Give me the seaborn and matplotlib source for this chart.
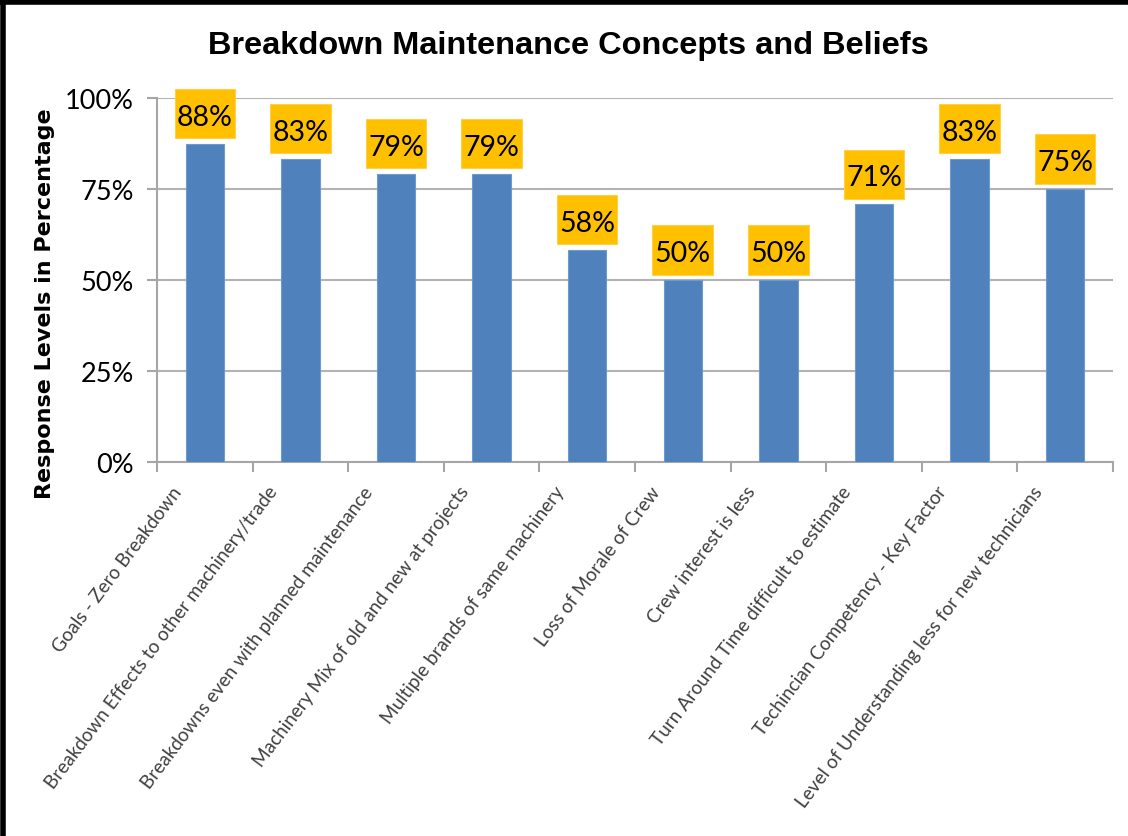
import matplotlib
matplotlib.use("Agg")
import matplotlib.pyplot as plt
import seaborn as sns
import pandas as pd
from matplotlib.lines import Line2D
from matplotlib.path import Path
from matplotlib.ticker import FixedLocator, PercentFormatter
from matplotlib.transforms import ScaledTranslation

categories = [
    "Goals - Zero Breakdown",
    "Breakdown Effects to other machinery/trade",
    "Breakdowns even with planned maintenance",
    "Machinery Mix of old and new at projects",
    "Multiple brands of same machinery",
    "Loss of Morale of Crew",
    "Crew interest is less",
    "Turn Around Time difficult to estimate",
    "Techincian Competency - Key Factor",
    "Level of Understanding less for new technicians",
]
values = [87.5, 83.3, 79.2, 79.2, 58.3, 50.0, 50.0, 70.8, 83.3, 75.0]
y_ticks = [0, 25, 50, 75, 100]

title = "Breakdown Maintenance Concepts and Beliefs"
y_label = "Response Levels in Percentage"

sns.set_theme(style="white")
plt.rcParams["font.family"] = ["Lato", "DejaVu Sans"]

df = pd.DataFrame({"cat": categories, "val": values})

fig = plt.figure(figsize=(11.28, 8.37), dpi=100)
ax = fig.add_axes([157 / 1128, 1 - 463 / 837, (1113 - 157) / 1128, (463 - 99) / 837])

sns.barplot(data=df, x="cat", y="val", color="#4F81BD", saturation=1,
            width=0.4, ax=ax, edgecolor="#6E9AD0", linewidth=0.8, zorder=3)

ax.set_xlim(-0.5, len(categories) - 0.5)
ax.set_ylim(0, 100)
ax.yaxis.set_major_locator(FixedLocator(y_ticks))
ax.yaxis.set_major_formatter(PercentFormatter(decimals=0))
ax.grid(axis="y", color="#B3B3B3", linewidth=1.5, zorder=0)
ax.grid(axis="x", visible=False)
ax.set_axisbelow(True)

for s in ["top", "right"]:
    ax.spines[s].set_visible(False)
for s in ["left", "bottom"]:
    ax.spines[s].set_visible(True)
    ax.spines[s].set_color("#A6A6A6")
    ax.spines[s].set_linewidth(1.5)

ax.tick_params(axis="y", which="major", length=7.5, width=1.5, color="#A6A6A6",
               labelsize=19.5, labelcolor="black", pad=9, left=True)
ax.set_xticks(range(len(categories)))
ax.set_xticklabels(categories, rotation=53, ha="right", va="top",
                   rotation_mode="anchor", fontsize=13.6, color="#404040")
ax.tick_params(axis="x", which="major", length=0, pad=15)
shift = ScaledTranslation(-33 / 100, 0, fig.dpi_scale_trans)
for lbl in ax.get_xticklabels():
    lbl.set_transform(lbl.get_transform() + shift)
ax.set_xticks([i - 0.5 for i in range(len(categories) + 1)], minor=True)
ax.tick_params(axis="x", which="minor", length=7, width=1.5, color="#A6A6A6", bottom=True)
ax.set_xlabel("")
ax.set_ylabel("")


def label_box(x0, y0, width, height, mutation_size):
    px = 0.08 * mutation_size
    pt = 0.52 * mutation_size
    pb = 0.3 * mutation_size
    xa, xb = x0 - px, x0 + width + px
    ya, yb = y0 - pb, y0 + height + pt
    return Path([(xa, ya), (xb, ya), (xb, yb), (xa, yb), (xa, ya)],
                [Path.MOVETO, Path.LINETO, Path.LINETO, Path.LINETO, Path.CLOSEPOLY])


for i, v in enumerate(values):
    ax.annotate(f"{round(v):d}%", xy=(i, v), xytext=(0, 10), textcoords="offset points",
                ha="center", va="bottom", fontsize=20.5, color="black",
                bbox=dict(boxstyle=label_box, fc="#FFC000", ec="#FFD04A", lw=0.8),
                zorder=5)

fig.text(568 / 1128, 1 - 46 / 837, title, ha="center", va="center",
         fontsize=23.4, fontweight="bold", color="black",
         family=["Liberation Sans", "DejaVu Sans"])
fig.text(45 / 1128, 1 - 304 / 837, y_label, ha="center", va="center",
         rotation=90, fontsize=16, fontweight="bold", color="black",
         family=["DejaVu Sans"])

fig.add_artist(Line2D([0, 1], [1 - 2.5 / 837, 1 - 2.5 / 837], transform=fig.transFigure,
                      color="black", linewidth=4))
fig.add_artist(Line2D([2.5 / 1128, 2.5 / 1128], [0, 1], transform=fig.transFigure,
                      color="black", linewidth=4))

fig.savefig("out.png", dpi=100)
